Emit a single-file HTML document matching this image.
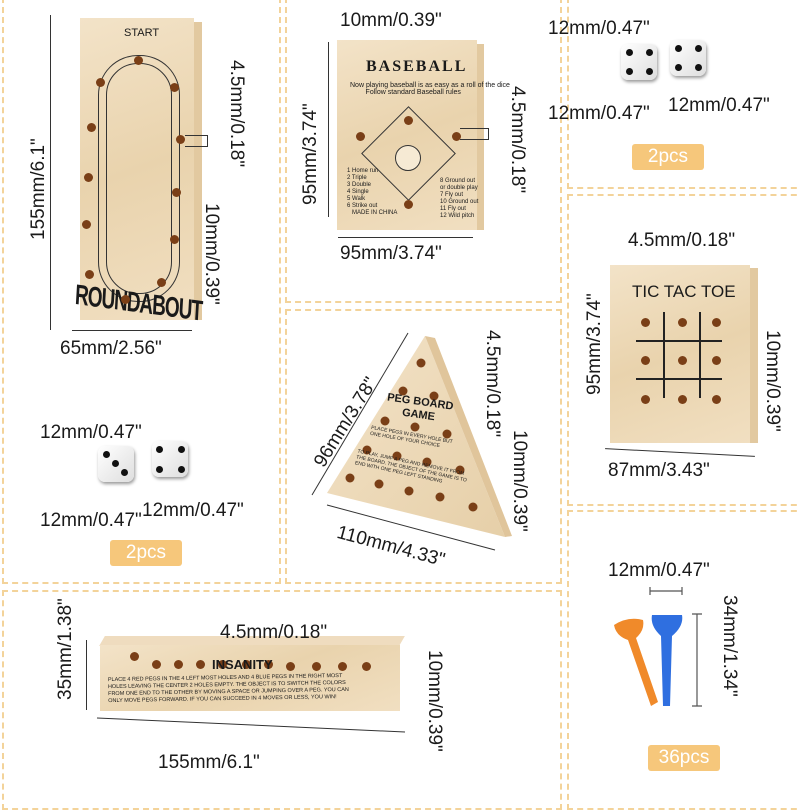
<!DOCTYPE html><html><head><meta charset="utf-8"><style>
body{margin:0;width:800px;height:800px;background:#fff;position:relative;overflow:hidden;font-family:"Liberation Sans",sans-serif;color:#222}
.p{position:absolute;border:2.5px dashed #f3d39a;box-sizing:border-box}
.t{position:absolute;font-size:19px;white-space:nowrap;color:#1a1a1a}
.r{transform-origin:left top;transform:rotate(90deg)}
.rl{transform-origin:left top;transform:rotate(-90deg)}
.badge{position:absolute;background:#f6c77b;color:#fff;font-size:19px;text-align:center;border-radius:3px}
.wood{position:absolute;background:linear-gradient(160deg,#f3e3c8,#e9d3ad 50%,#f1dfc1)}
.h{position:absolute;width:9px;height:9px;border-radius:50%;background:#7a3f17}
.die{position:absolute;width:36px;height:36px;border-radius:7px;background:linear-gradient(135deg,#fff,#dedede);box-shadow:1px 2px 3px #999}
.d{position:absolute;width:7px;height:7px;border-radius:50%;background:#111}
</style></head><body>
<div class="p" style="left:2px;top:-3px;width:279px;height:587px"></div>
<div class="p" style="left:285px;top:-3px;width:277px;height:306px"></div>
<div class="p" style="left:567px;top:-3px;width:240px;height:192px"></div>
<div class="p" style="left:567px;top:194px;width:240px;height:312px"></div>
<div class="p" style="left:567px;top:510px;width:240px;height:300px"></div>
<div class="p" style="left:285px;top:309px;width:277px;height:275px"></div>
<div class="p" style="left:2px;top:590px;width:560px;height:220px"></div>

<!-- roundabout -->
<div class="wood" style="left:80px;top:18px;width:114px;height:302px"></div>
<div style="position:absolute;left:194px;top:22px;width:8px;height:298px;background:#e2c9a0"></div>
<div style="position:absolute;left:98px;top:55px;width:80px;height:245px;border:1.5px solid #333;border-radius:40px"></div>
<div style="position:absolute;left:106px;top:63px;width:64px;height:229px;border:1.5px solid #333;border-radius:32px"></div>
<div class="t" style="left:124px;top:27px;font-size:11px">START</div>
<div class="t" style="left:76px;top:280px;font-size:19px;font-weight:bold;letter-spacing:-1px;transform:scaleY(1.5) rotate(5deg);transform-origin:left top">ROUNDABOUT</div>
<div class="h" style="left:134px;top:56px"></div><div class="h" style="left:96px;top:78px"></div><div class="h" style="left:170px;top:83px"></div>
<div class="h" style="left:87px;top:123px"></div><div class="h" style="left:176px;top:135px"></div><div class="h" style="left:84px;top:173px"></div>
<div class="h" style="left:172px;top:188px"></div><div class="h" style="left:82px;top:220px"></div><div class="h" style="left:170px;top:235px"></div>
<div class="h" style="left:85px;top:270px"></div><div class="h" style="left:157px;top:278px"></div><div class="h" style="left:121px;top:295px"></div>
<div style="position:absolute;left:50px;top:15px;width:1px;height:315px;background:#333"></div>
<div style="position:absolute;left:72px;top:330px;width:120px;height:1px;background:#333"></div>
<div class="t rl" style="left:28px;top:240px">155mm/6.1"</div>
<div class="t" style="left:60px;top:338px">65mm/2.56"</div>
<div class="t r" style="left:247px;top:60px">4.5mm/0.18"</div>
<div class="t r" style="left:222px;top:203px">10mm/0.39"</div>
<div style="position:absolute;left:185px;top:135px;width:22px;height:10px;border:1px solid #333;border-left:none"></div>

<!-- dice left -->
<div class="die" style="left:98px;top:446px"></div><div class="die" style="left:152px;top:441px"></div>
<div class="d" style="left:112px;top:460px"></div><div class="d" style="left:103px;top:451px"></div><div class="d" style="left:121px;top:469px"></div>
<div class="d" style="left:156px;top:446px"></div><div class="d" style="left:178px;top:446px"></div><div class="d" style="left:156px;top:466px"></div><div class="d" style="left:178px;top:466px"></div>
<div class="t" style="left:40px;top:422px">12mm/0.47"</div>
<div class="t" style="left:40px;top:510px">12mm/0.47"</div>
<div class="t" style="left:142px;top:500px">12mm/0.47"</div>
<div class="badge" style="left:110px;top:540px;width:72px;height:26px;line-height:26px">2pcs</div>

<!-- baseball -->
<div class="wood" style="left:337px;top:40px;width:140px;height:190px"></div>
<div style="position:absolute;left:477px;top:44px;width:7px;height:186px;background:#e2c9a0"></div>
<div class="t" style="left:366px;top:58px;font-size:16px;font-weight:bold;letter-spacing:2px;font-family:'Liberation Serif',serif">BASEBALL</div>
<div class="t" style="left:350px;top:82px;font-size:7px">Now playing baseball is as easy as a roll of the dice<br>&nbsp;&nbsp;&nbsp;&nbsp;&nbsp;&nbsp;&nbsp;&nbsp;Follow standard Baseball rules</div>
<div style="position:absolute;left:375px;top:120px;width:65px;height:65px;border:1.5px solid #333;transform:rotate(45deg)"></div>
<div style="position:absolute;left:395px;top:145px;width:24px;height:24px;border:1.5px solid #333;border-radius:50%;background:#f6ead4"></div>
<div class="h" style="left:404px;top:116px"></div><div class="h" style="left:356px;top:132px"></div><div class="h" style="left:452px;top:132px"></div><div class="h" style="left:404px;top:200px"></div>
<div class="t" style="left:347px;top:168px;font-size:6px;line-height:7px">1 Home run<br>2 Triple<br>3 Double<br>4 Single<br>5 Walk<br>6 Strike out</div>
<div class="t" style="left:440px;top:178px;font-size:6px;line-height:7px">8 Ground out<br>or double play<br>7 Fly out<br>10 Ground out<br>11 Fly out<br>12 Wild pitch</div>
<div class="t" style="left:352px;top:210px;font-size:6px">MADE IN CHINA</div>
<div style="position:absolute;left:328px;top:42px;width:1px;height:175px;background:#333"></div>
<div style="position:absolute;left:338px;top:237px;width:135px;height:1px;background:#333"></div>
<div class="t" style="left:340px;top:10px">10mm/0.39"</div>
<div class="t rl" style="left:300px;top:205px">95mm/3.74"</div>
<div class="t" style="left:340px;top:243px">95mm/3.74"</div>
<div class="t r" style="left:528px;top:86px">4.5mm/0.18"</div>
<div style="position:absolute;left:460px;top:128px;width:28px;height:10px;border:1px solid #333;border-left:none"></div>

<!-- top right dice -->
<div class="die" style="left:621px;top:44px"></div><div class="die" style="left:670px;top:40px"></div>
<div class="d" style="left:626px;top:49px"></div><div class="d" style="left:646px;top:49px"></div><div class="d" style="left:626px;top:68px"></div><div class="d" style="left:646px;top:68px"></div>
<div class="d" style="left:675px;top:45px"></div><div class="d" style="left:695px;top:45px"></div><div class="d" style="left:675px;top:64px"></div><div class="d" style="left:695px;top:64px"></div>
<div class="t" style="left:548px;top:18px">12mm/0.47"</div>
<div class="t" style="left:548px;top:103px">12mm/0.47"</div>
<div class="t" style="left:668px;top:95px">12mm/0.47"</div>
<div class="badge" style="left:632px;top:144px;width:72px;height:26px;line-height:26px">2pcs</div>

<!-- tic tac toe -->
<div class="wood" style="left:610px;top:265px;width:140px;height:178px"></div>
<div style="position:absolute;left:750px;top:268px;width:8px;height:175px;background:#e2c9a0"></div>
<div class="t" style="left:632px;top:282px;font-size:17px">TIC TAC TOE</div>
<div style="position:absolute;left:636px;top:340px;width:86px;height:2px;background:#222"></div>
<div style="position:absolute;left:636px;top:378px;width:86px;height:2px;background:#222"></div>
<div style="position:absolute;left:663px;top:312px;width:2px;height:86px;background:#222"></div>
<div style="position:absolute;left:699px;top:312px;width:2px;height:86px;background:#222"></div>
<div class="h" style="left:641px;top:318px"></div><div class="h" style="left:678px;top:318px"></div><div class="h" style="left:712px;top:318px"></div>
<div class="h" style="left:641px;top:356px"></div><div class="h" style="left:678px;top:356px"></div><div class="h" style="left:712px;top:356px"></div>
<div class="h" style="left:641px;top:395px"></div><div class="h" style="left:678px;top:395px"></div><div class="h" style="left:712px;top:395px"></div>
<div class="t" style="left:628px;top:230px">4.5mm/0.18"</div>
<div class="t rl" style="left:584px;top:395px">95mm/3.74"</div>
<div class="t r" style="left:783px;top:330px">10mm/0.39"</div>
<div class="t" style="left:608px;top:460px">87mm/3.43"</div>
<div style="position:absolute;left:605px;top:452px;width:150px;height:1px;background:#333;transform:rotate(3deg)"></div>

<!-- peg triangle + pegs -->
<svg style="position:absolute;left:0;top:0" width="800" height="800">
<defs><linearGradient id="g" x1="0" y1="0" x2="1" y2="1"><stop offset="0" stop-color="#f3e3c8"/><stop offset="1" stop-color="#e6cfa8"/></linearGradient></defs>
<polygon points="425,336 327,493 505,537" fill="url(#g)"/>
<polygon points="425,336 435,338 512,536 505,537" fill="#e0c59b"/>
<line x1="312" y1="495" x2="408" y2="333" stroke="#333"/>
<line x1="327" y1="505" x2="495" y2="550" stroke="#333"/>
<line x1="97" y1="718" x2="405" y2="732" stroke="#333"/>
<g fill="#7a3f17"><circle cx="421" cy="363" r="4.5"/><circle cx="403" cy="391" r="4.5"/><circle cx="434" cy="396" r="4.5"/><circle cx="385" cy="421" r="4.5"/><circle cx="415" cy="427" r="4.5"/><circle cx="447" cy="434" r="4.5"/><circle cx="367" cy="450" r="4.5"/><circle cx="397" cy="456" r="4.5"/><circle cx="427" cy="462" r="4.5"/><circle cx="460" cy="470" r="4.5"/><circle cx="350" cy="478" r="4.5"/><circle cx="379" cy="484" r="4.5"/><circle cx="409" cy="491" r="4.5"/><circle cx="440" cy="497" r="4.5"/><circle cx="473" cy="507" r="4.5"/></g>
<!-- pegs -->
<path d="M614,625 Q628,616 643,620 Q645,630 636,638 L658,702 L651,706 L628,640 Q616,636 614,625Z" fill="#f08a2a"/>
<path d="M652,615 L682,615 Q684,626 672,636 L670,706 L663,706 L661,636 Q650,626 652,615Z" fill="#2f6fe0"/>
<g stroke="#555" stroke-width="1.2" fill="none"><path d="M650,587 v8 M650,591 H682 M682,587 v8"/><path d="M692,614 h10 M697,614 V706 M692,706 h10"/></g>
</svg>
<div class="t" style="left:386px;top:396px;font-size:11px;font-weight:bold;text-align:center;line-height:13px;transform:rotate(8deg)">PEG BOARD<br>GAME</div>
<div class="t" style="left:370px;top:432px;font-size:5px;transform:rotate(10deg)">PLACE PEGS IN EVERY HOLE BUT<br>ONE HOLE OF YOUR CHOICE</div>
<div class="t" style="left:355px;top:460px;font-size:5px;transform:rotate(12deg)">TO PLAY, JUMP A PEG AND REMOVE IT FROM<br>THE BOARD. THE OBJECT OF THE GAME IS TO<br>END WITH ONE PEG LEFT STANDING</div>
<div class="t" style="left:310px;top:460px;transform-origin:left top;transform:rotate(-58deg)">96mm/3.78"</div>
<div class="t" style="left:340px;top:522px;transform-origin:left top;transform:rotate(15deg)">110mm/4.33"</div>
<div class="t r" style="left:503px;top:330px">4.5mm/0.18"</div>
<div class="t r" style="left:530px;top:430px">10mm/0.39"</div>

<!-- insanity -->
<div style="position:absolute;left:102px;top:636px;width:300px;height:10px;background:#efdcbf;transform:skewX(-30deg)"></div>
<div class="wood" style="left:100px;top:645px;width:300px;height:66px"></div>
<div class="h" style="left:130px;top:652px"></div><div class="h" style="left:152px;top:660px"></div><div class="h" style="left:174px;top:660px"></div><div class="h" style="left:196px;top:660px"></div><div class="h" style="left:218px;top:660px"></div><div class="h" style="left:242px;top:660px"></div><div class="h" style="left:264px;top:660px"></div><div class="h" style="left:286px;top:662px"></div><div class="h" style="left:312px;top:662px"></div><div class="h" style="left:338px;top:662px"></div><div class="h" style="left:362px;top:662px"></div>
<div class="t" style="left:212px;top:657px;font-size:13px;font-weight:bold">INSANITY</div>
<div class="t" style="left:108px;top:675px;font-size:5.5px;line-height:7px;transform:rotate(-1deg)">PLACE 4 RED PEGS IN THE 4 LEFT MOST HOLES AND 4 BLUE PEGS IN THE RIGHT MOST<br>HOLES LEAVING THE CENTER 2 HOLES EMPTY. THE OBJECT IS TO SWITCH THE COLORS<br>FROM ONE END TO THE OTHER BY MOVING A SPACE OR JUMPING OVER A PEG. YOU CAN<br>ONLY MOVE PEGS FORWARD. IF YOU CAN SUCCEED IN 4 MOVES OR LESS, YOU WIN!</div>
<div class="t" style="left:220px;top:622px">4.5mm/0.18"</div>
<div class="t rl" style="left:55px;top:700px">35mm/1.38"</div>
<div style="position:absolute;left:86px;top:640px;width:1px;height:70px;background:#333"></div>
<div class="t" style="left:158px;top:752px">155mm/6.1"</div>
<div class="t r" style="left:445px;top:650px">10mm/0.39"</div>

<div class="t" style="left:608px;top:560px">12mm/0.47"</div>
<div class="t r" style="left:740px;top:595px">34mm/1.34"</div>
<div class="badge" style="left:648px;top:745px;width:72px;height:26px;line-height:26px">36pcs</div>
</body></html>
